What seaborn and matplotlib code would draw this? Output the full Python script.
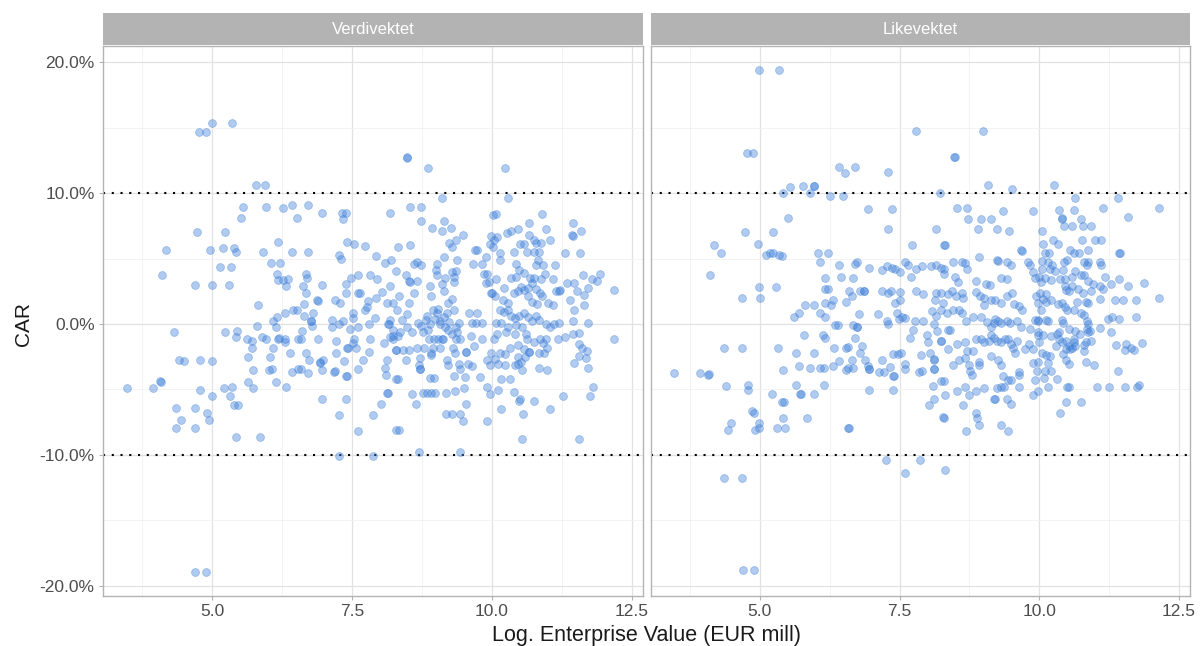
import numpy as np
import pandas as pd
import matplotlib
matplotlib.use("Agg")
import matplotlib.pyplot as plt
import seaborn as sns
from matplotlib.ticker import PercentFormatter, FixedLocator

sns.set_theme(style="white")
plt.rcParams["font.family"] = ["Liberation Sans", "DejaVu Sans"]
plt.rcParams["axes.unicode_minus"] = False

# Facet titles
panels = ["Verdivektet", "Likevektet"]

# (log enterprise value, CAR in %) per event, value-weighted
verdivektet = [
    (4.76, 14.66), (4.73, 7.03), (4.18, 5.68), (4.10, 3.74), (4.69, 3.0), (4.32, -0.58), (4.40, -2.73),
    (4.50, -2.84), (4.79, -2.73), (3.48, -4.89), (3.94, -4.89), (4.07, -4.35), (4.09, -4.40), (4.79, -5.05),
    (4.36, -6.46), (4.70, -6.46), (4.44, -7.32), (4.36, -7.97), (4.70, -7.97), (4.70, -18.97),
    (4.89, 14.66), (5.0, 15.39), (5.36, 15.39), (5.79, 10.64), (5.95, 10.64), (5.55, 8.97), (5.51, 8.11),
    (5.97, 8.97), (6.26, 8.86), (6.42, 9.13), (6.51, 8.11), (5.23, 7.03), (4.96, 5.68), (5.20, 5.79),
    (5.39, 5.84), (5.42, 5.52), (5.91, 5.52), (6.18, 6.27), (6.42, 5.52), (5.14, 4.39), (5.34, 4.39),
    (6.05, 4.65), (6.22, 4.65), (4.99, 3.0), (5.30, 3.0), (6.16, 3.85), (6.18, 3.36), (6.26, 3.36),
    (6.36, 3.47), (6.32, 2.88), (5.82, 1.47), (6.45, 1.04), (6.30, 0.82), (6.16, 0.55), (6.08, 0.23),
    (5.80, -0.15), (6.14, -0.20), (5.23, -0.58), (5.45, -0.53), (5.42, -1.01), (5.63, -1.12), (5.71, -1.33),
    (5.90, -0.96), (5.97, -1.12), (6.18, -1.12), (6.19, -1.10), (6.30, -1.17), (6.31, -1.39), (6.54, -1.17),
    (5.71, -1.82), (6.09, -1.82), (6.40, -2.25), (5.64, -2.52), (6.03, -2.52), (4.99, -2.84), (5.73, -3.49),
    (6.01, -3.49), (6.07, -3.44), (6.42, -3.65), (6.54, -3.44), (5.64, -4.46), (6.15, -4.46), (5.22, -4.89),
    (5.35, -4.84), (5.73, -4.89), (6.32, -4.84), (5.32, -5.54), (4.99, -5.54), (5.39, -6.19), (5.46, -6.19),
    (4.91, -6.78), (4.95, -7.32), (5.42, -8.67), (5.85, -8.67), (4.89, -18.97),
    (6.71, 9.13), (6.96, 8.48), (7.32, 8.48), (7.39, 8.51), (7.33, 8.03), (8.18, 8.51), (7.41, 6.27),
    (7.53, 6.11), (7.74, 5.95), (6.71, 5.52), (7.27, 5.25), (7.30, 4.98), (7.92, 5.19), (8.09, 4.65),
    (8.20, 4.92), (6.67, 3.85), (6.69, 3.53), (6.63, 2.88), (6.96, 3.0), (7.39, 3.04), (7.49, 3.53),
    (7.61, 3.74), (7.82, 3.74), (7.95, 3.47), (6.68, 2.39), (6.88, 1.80), (6.89, 1.78), (7.20, 1.80),
    (7.29, 1.64), (7.39, 2.39), (7.60, 2.34), (7.65, 2.34), (7.77, 1.31), (7.78, 1.74), (7.74, 1.04),
    (7.92, 1.96), (8.04, 2.44), (8.13, 1.58), (8.18, 2.88), (6.52, 1.04), (6.65, 1.53), (6.65, 0.61),
    (6.80, 0.82), (6.76, 0.23), (6.77, 0.25), (6.79, -0.15), (6.61, -0.53), (7.15, 0.34), (7.14, -0.20),
    (7.26, 0.0), (7.33, 0.20), (7.52, 0.82), (7.51, 0.44), (7.46, -0.37), (7.60, -0.20), (7.80, 0.0),
    (7.91, 0.44), (8.15, 0.0), (8.16, 0.02), (8.18, 0.34), (8.18, -0.96), (8.24, -1.12), (6.59, -1.17),
    (6.89, -1.17), (7.21, -1.28), (7.52, -1.44), (7.54, -1.12), (7.82, -1.17), (8.08, -1.44), (7.41, -1.87),
    (7.42, -1.85), (7.57, -1.87), (6.67, -2.20), (7.22, -2.20), (7.80, -2.14), (8.28, -1.98), (6.73, -2.79),
    (7.70, -2.73), (8.13, -2.79), (6.92, -2.95), (6.93, -2.93), (6.99, -2.79), (7.36, -2.84), (6.59, -3.44),
    (6.72, -3.71), (6.96, -3.49), (7.18, -3.65), (7.19, -3.63), (7.40, -3.98), (7.41, -3.96), (7.61, -3.44),
    (8.09, -3.38), (8.10, -3.92), (8.28, -4.24), (8.13, -5.27), (8.14, -5.25), (6.96, -5.75), (7.39, -5.75),
    (8.02, -6.08), (7.27, -6.94), (7.88, -6.94), (7.60, -8.18), (7.27, -10.12), (7.88, -10.12), (8.28, -8.13),
    (8.48, 12.75), (8.49, 12.73), (8.86, 11.94), (9.10, 9.62), (8.53, 8.97), (8.73, 8.97), (8.74, 7.89),
    (8.93, 7.35), (9.14, 7.89), (9.11, 7.08), (9.26, 7.35), (9.49, 6.81), (10.02, 8.32), (8.33, 5.90),
    (8.53, 6.06), (9.23, 6.22), (9.35, 6.43), (9.29, 5.90), (9.70, 5.68), (9.73, 5.68), (9.96, 6.11),
    (8.61, 4.60), (8.66, 4.71), (8.73, 4.55), (9.02, 4.60), (9.15, 5.09), (9.38, 4.87), (9.67, 4.60),
    (9.82, 4.60), (9.89, 5.09), (8.29, 4.06), (8.47, 3.74), (9.00, 4.12), (9.01, 3.77), (9.29, 3.95),
    (9.35, 4.06), (9.85, 3.85), (9.91, 3.85), (9.89, 3.15), (10.01, 2.39), (9.95, 3.20), (8.54, 3.20),
    (8.52, 3.31), (8.67, 3.31), (8.90, 2.88), (9.10, 3.04), (9.17, 3.53), (9.32, 3.20), (9.33, 3.58),
    (8.34, 2.17), (8.61, 2.39), (8.91, 2.12), (9.14, 2.50), (9.21, 1.58), (9.29, 1.90), (8.24, 1.58),
    (8.30, 1.04), (8.52, 1.58), (8.49, 0.77), (8.40, 0.34), (8.68, 0.07), (8.84, 0.61), (8.82, 0.34),
    (8.95, 1.04), (9.01, 0.82), (9.03, 1.15), (8.98, 0.39), (9.07, 0.23), (9.14, 0.50), (9.20, 0.88),
    (9.32, 1.04), (8.89, 0.02), (9.08, 0.0), (9.16, -0.20), (9.24, 0.12), (9.35, -0.20), (9.41, 0.07),
    (9.59, 0.82), (9.73, 0.88), (9.64, 0.05), (9.71, 0.05), (9.83, 0.05), (8.24, -0.47), (8.24, -0.90),
    (8.33, -0.90), (8.36, -0.58), (8.48, -0.20), (8.57, -0.58), (8.73, -0.15), (8.76, -0.58), (8.86, -0.47),
    (8.87, -1.17), (8.96, -1.15), (9.04, -1.15), (9.11, -1.15), (9.12, -1.13), (9.22, -0.47), (9.29, -0.80),
    (9.38, -0.58), (9.35, -1.17), (9.43, -1.17), (9.63, -0.90), (9.68, -1.66), (9.82, -1.17), (8.29, -1.95),
    (8.42, -1.95), (8.51, -1.95), (8.66, -1.82), (8.78, -1.82), (8.95, -1.87), (8.91, -2.20), (9.08, -1.82),
    (9.30, -1.82), (9.34, -2.20), (9.53, -2.14), (9.54, -2.12), (8.47, -2.79), (8.71, -2.57), (8.70, -3.17),
    (8.71, -3.44), (8.72, -3.42), (8.92, -2.36), (9.20, -2.73), (9.21, -3.10), (9.41, -3.06), (9.43, -3.44),
    (9.58, -3.06), (9.65, -3.22), (9.91, -2.73), (9.97, -3.17), (8.32, -4.24), (8.90, -4.10), (8.96, -4.10),
    (9.33, -3.98), (9.52, -4.08), (9.78, -4.08), (9.91, -4.84), (8.57, -5.32), (8.64, -6.13), (8.76, -5.24),
    (8.84, -5.24), (8.91, -5.24), (8.98, -5.24), (9.18, -5.27), (9.34, -5.11), (9.51, -4.89), (9.54, -6.08),
    (9.97, -5.32), (9.18, -6.86), (9.28, -6.86), (9.43, -6.86), (9.49, -7.43), (9.92, -7.43), (8.34, -8.13),
    (8.70, -9.75), (9.43, -9.75),
    (10.23, 11.94), (10.29, 9.67), (10.08, 8.38), (10.89, 8.38), (10.67, 7.73), (11.45, 7.73), (10.27, 6.97),
    (10.35, 7.14), (10.47, 7.24), (9.98, 6.76), (10.04, 6.43), (10.09, 6.65), (10.67, 6.81), (10.75, 6.43),
    (10.79, 6.22), (10.88, 6.22), (10.96, 7.24), (11.04, 6.43), (11.43, 6.81), (11.60, 7.14), (10.51, 6.11),
    (10.58, 6.11), (10.02, 5.90), (10.15, 5.41), (10.40, 5.52), (10.63, 5.52), (10.76, 5.47), (10.84, 5.47),
    (10.82, 4.87), (11.30, 5.41), (11.58, 5.41), (10.14, 4.87), (10.43, 4.60), (10.48, 4.12), (10.78, 4.50),
    (10.92, 4.50), (11.13, 4.49), (11.62, 3.74), (10.08, 3.47), (10.22, 2.77), (10.35, 3.53), (10.43, 3.63),
    (10.57, 3.90), (10.68, 3.50), (10.76, 3.50), (10.88, 3.47), (10.95, 3.85), (11.09, 3.42), (11.15, 2.55),
    (11.20, 2.55), (11.21, 2.57), (11.34, 3.15), (11.46, 3.15), (11.52, 2.55), (11.72, 2.77), (9.98, 2.39),
    (10.05, 2.12), (10.20, 1.85), (10.28, 1.64), (10.39, 2.39), (10.46, 2.55), (10.52, 2.83), (10.58, 2.61),
    (10.65, 2.77), (10.72, 3.10), (10.79, 2.66), (10.86, 2.39), (10.90, 2.12), (10.64, 2.12), (10.72, 1.69),
    (10.80, 1.53), (11.00, 1.58), (11.10, 1.42), (11.39, 1.80), (11.46, 1.04), (11.65, 1.47), (10.15, 1.09),
    (10.22, 0.93), (10.29, 1.04), (10.35, 0.61), (10.42, 0.44), (10.48, 0.61), (10.57, 0.82), (10.65, 0.50),
    (10.72, 0.23), (10.79, 0.61), (10.84, 0.28), (10.07, 0.07), (10.16, 0.07), (10.29, -0.25), (10.43, -0.09),
    (10.53, -0.25), (10.96, 0.0), (11.04, -0.20), (11.11, 0.0), (11.20, 0.07), (11.45, 0.23), (11.72, 0.07),
    (10.09, -0.80), (10.03, -1.17), (10.26, -0.64), (10.42, -0.74), (10.61, -0.74), (10.63, -1.17),
    (10.76, -1.39), (10.86, -1.17), (10.97, -1.17), (10.91, -1.44), (11.18, -1.12), (11.30, -0.96),
    (11.45, -0.74), (11.55, -0.69), (10.32, -1.82), (10.47, -1.60), (10.58, -1.93), (10.66, -2.14),
    (10.67, -2.12), (10.93, -2.20), (10.98, -1.87), (11.61, -1.87), (11.70, -2.09), (9.98, -2.25),
    (10.14, -2.20), (10.24, -2.31), (10.05, -2.68), (10.47, -2.52), (10.60, -2.52), (10.52, -2.90),
    (10.85, -2.20), (11.56, -2.47), (10.11, -3.06), (10.24, -3.17), (10.42, -3.17), (10.47, -3.06),
    (10.53, -3.49), (10.84, -3.38), (10.98, -3.49), (11.47, -3.00), (11.71, -3.33), (10.17, -4.19),
    (10.33, -4.19), (10.10, -5.05), (10.40, -5.21), (10.49, -5.86), (10.50, -5.70), (10.76, -5.92),
    (11.27, -5.48), (11.76, -5.48), (10.17, -6.51), (10.55, -6.89), (11.04, -6.51), (10.54, -8.78),
    (11.55, -8.78),
    (11.79, 3.47), (11.87, 3.26), (11.94, 3.85), (12.19, 2.61), (11.65, 2.23), (12.19, -1.14),
    (11.56, -1.55), (11.69, -2.60), (11.80, -4.84), (11.45, 6.76),
]

# (log enterprise value, CAR in %) per event, equal-weighted
likevektet = [
    (4.76, 13.05), (4.88, 13.05), (4.73, 7.03), (4.17, 6.08), (4.31, 5.46), (4.10, 3.74), (4.68, 1.96),
    (4.36, -1.87), (4.68, -1.87), (3.46, -3.76), (3.92, -3.76), (4.07, -3.87), (4.08, -3.85), (4.40, -4.73),
    (4.79, -4.68), (4.79, -5.05), (4.49, -7.54), (4.43, -8.13), (4.36, -11.80), (4.68, -11.80),
    (4.70, -18.81), (4.86, -6.67),
    (4.99, 19.43), (5.35, 19.43), (6.41, 12.03), (6.52, 11.54), (5.41, 10.0), (5.54, 10.46), (5.78, 10.56),
    (5.96, 10.56), (5.97, 10.54), (5.90, 10.0), (6.26, 9.78), (6.49, 9.78), (5.51, 8.11), (5.23, 7.03),
    (4.96, 6.11), (5.11, 5.30), (5.18, 5.46), (5.24, 5.41), (5.35, 5.25), (5.40, 5.19), (6.04, 5.41),
    (6.21, 5.41), (6.08, 4.76), (6.41, 4.55), (6.16, 3.53), (6.45, 3.58), (4.98, 2.83), (5.29, 2.83),
    (5.01, 1.96), (6.17, 2.66), (6.22, 2.66), (6.30, 1.85), (6.28, 1.42), (6.17, 1.58), (5.80, 1.42),
    (5.96, 1.42), (5.70, 0.88), (5.61, 0.50), (6.08, 0.88), (6.17, 0.50), (6.35, -0.10), (6.40, -0.10),
    (6.55, 1.70), (5.79, -0.85), (6.13, -0.85), (6.17, -1.06), (5.33, -1.82), (6.32, -1.82), (5.64, -2.25),
    (5.96, -2.25), (6.54, -1.82), (5.41, -3.49), (5.70, -3.22), (5.90, -3.40), (6.07, -3.40), (6.15, -3.40),
    (6.30, -3.22), (6.41, -2.84), (6.54, -3.49), (5.64, -4.68), (5.72, -5.38), (5.73, -5.36), (5.22, -5.38),
    (5.96, -5.38), (6.14, -4.68), (5.39, -5.97), (5.43, -5.97), (4.90, -6.78), (5.41, -7.16), (5.85, -7.16),
    (4.98, -7.54), (4.92, -8.13), (4.99, -7.97), (5.30, -7.97), (5.45, -7.97), (6.58, -7.97), (4.89, -18.81),
    (7.80, 14.79), (6.70, 12.03), (7.30, 11.59), (8.22, 10.05), (6.93, 8.81), (7.37, 8.81), (7.30, 7.24),
    (8.16, 7.24), (7.73, 6.05), (8.29, 6.05), (6.70, 4.60), (6.74, 4.71), (6.95, 4.28), (7.18, 4.12),
    (7.27, 4.44), (7.36, 4.28), (7.41, 4.17), (7.51, 4.01), (7.59, 4.71), (7.66, 4.55), (7.79, 4.17),
    (7.90, 4.44), (8.07, 4.44), (8.15, 4.55), (7.71, 3.58), (6.67, 3.53), (8.24, 4.28), (8.29, 3.85),
    (6.60, 2.50), (6.64, 2.17), (6.79, 2.55), (6.86, 2.50), (6.87, 2.52), (7.18, 2.50), (7.29, 2.39),
    (7.35, 2.50), (7.51, 2.44), (7.79, 2.50), (7.92, 2.28), (8.15, 2.39), (8.13, 1.80), (7.41, 1.58),
    (7.51, 1.80), (8.27, 1.58), (6.78, 0.77), (7.11, 0.77), (7.27, 0.23), (7.45, 0.82), (7.49, 0.39),
    (7.54, 0.50), (7.60, 0.44), (7.78, 0.23), (7.92, 0.23), (8.08, 0.99), (8.16, 0.61), (8.11, 0.0),
    (8.17, -0.53), (6.67, -0.10), (6.73, -0.25), (6.74, -0.23), (7.29, 0.0), (7.68, -1.06), (7.74, -0.47),
    (7.99, -0.85), (8.01, -1.39), (8.24, -1.28), (6.58, -1.76), (6.71, -1.06), (6.83, -1.66), (6.80, -2.20),
    (6.65, -2.73), (6.89, -2.79), (6.93, -3.22), (6.95, -3.44), (6.96, -3.42), (6.57, -3.40), (6.67, -3.40),
    (7.18, -2.73), (7.14, -3.65), (7.22, -3.65), (7.33, -3.27), (7.39, -3.98), (7.40, -3.96), (7.39, -2.30),
    (7.48, -2.30), (7.53, -2.20), (7.59, -3.06), (7.59, -3.44), (7.88, -2.36), (8.05, -2.20), (8.11, -2.73),
    (8.12, -2.71), (8.11, -3.44), (8.12, -3.42), (7.85, -3.70), (7.90, -3.60), (8.24, -4.35), (8.09, -4.73),
    (6.95, -5.05), (7.38, -5.05), (8.11, -5.75), (8.02, -6.19), (8.27, -7.11), (6.60, -7.97), (7.26, -10.39),
    (7.86, -10.39), (7.59, -11.42), (8.31, -11.2),
    (8.99, 14.79), (8.48, 12.75), (8.49, 12.77), (9.08, 10.64), (9.52, 10.32), (8.52, 8.86), (8.71, 8.86),
    (8.73, 8.05), (8.96, 8.05), (9.13, 8.05), (8.90, 7.30), (9.24, 7.30), (9.36, 8.65), (9.46, 7.08),
    (9.89, 8.65), (8.32, 6.05), (8.93, 5.14), (9.68, 5.63), (9.69, 5.61), (9.24, 4.87),
    (8.46, 4.71), (8.61, 4.71), (8.68, 4.66), (8.70, 4.17), (8.29, 4.17), (8.50, 3.58), (8.54, 3.20),
    (8.87, 3.31), (9.05, 3.09), (9.12, 2.98), (9.26, 4.82), (9.42, 4.71), (9.50, 4.55), (9.32, 3.52),
    (9.42, 3.47), (9.80, 4.71), (9.83, 4.49), (9.89, 3.95), (9.93, 3.52), (10.0, 3.58),
    (8.25, 2.39), (8.37, 2.28), (8.44, 2.50), (8.62, 2.39), (8.51, 2.12), (8.64, 1.96), (8.87, 2.44),
    (8.94, 2.12), (9.01, 2.01), (9.02, 1.42), (9.14, 1.80), (9.21, 1.80), (9.31, 1.64), (9.42, 2.12),
    (9.51, 2.39), (9.55, 1.53), (9.64, 1.37), (9.70, 1.10), (9.95, 2.12), (10.01, 2.39),
    (8.25, 1.04), (8.35, 0.83), (8.46, 1.04), (8.56, 1.04), (8.61, 0.88), (8.69, 0.23), (8.82, 0.56),
    (8.95, 0.50), (9.07, 0.18), (9.14, -0.20), (9.19, 0.07), (9.21, 0.39), (9.26, 0.23), (9.31, 0.07),
    (9.42, 0.23), (9.48, 0.07), (9.60, 0.23), (9.68, -0.20), (9.83, -0.41), (9.92, 0.34), (9.98, 0.23),
    (8.36, -0.47), (8.40, -0.47),
    (8.25, -1.28), (8.36, -1.93), (8.52, -1.55), (8.67, -1.39), (8.70, -2.09), (8.82, -2.09), (8.87, -1.17),
    (8.96, -1.17), (9.02, -1.39), (9.11, -1.28), (9.14, -0.85), (9.19, -1.06), (9.24, -1.28), (9.31, -1.39),
    (9.38, -1.17), (9.44, -1.17), (9.50, -1.55), (9.54, -1.82), (9.57, -2.20), (9.61, -1.28), (9.74, -1.93),
    (9.82, -1.55), (9.89, -1.93), (9.98, -0.85),
    (8.45, -3.11), (8.57, -2.79), (8.68, -2.63), (8.74, -3.17), (8.76, -3.60), (8.79, -3.87), (8.92, -2.90),
    (8.93, -3.17), (9.13, -2.47), (9.26, -2.79), (9.32, -3.17), (9.35, -3.98), (9.44, -4.25), (9.50, -4.25),
    (9.63, -3.65), (9.64, -3.92), (9.89, -3.00), (9.93, -4.25), (9.96, -3.60),
    (8.29, -4.35), (8.31, -5.43), (8.29, -7.16), (8.52, -5.10), (8.63, -6.18), (8.67, -4.78), (8.74, -5.43),
    (8.87, -5.10), (9.02, -4.89), (9.19, -5.75), (9.20, -5.73), (9.24, -4.89), (9.32, -4.78), (9.37, -4.83),
    (9.43, -5.70), (9.50, -6.13), (9.64, -4.83), (9.89, -5.43), (8.87, -6.78), (8.89, -7.16), (8.93, -7.75),
    (9.31, -7.75), (9.44, -8.18), (8.69, -8.18),
    (10.27, 10.64), (10.65, 9.62), (11.41, 9.67), (11.15, 8.86), (10.62, 8.70), (10.35, 8.70), (10.40, 8.05),
    (10.41, 8.07), (11.59, 8.16), (10.44, 7.51), (10.59, 7.51), (10.75, 8.05), (10.79, 7.51), (10.93, 7.51),
    (10.05, 7.08), (10.24, 6.43), (10.34, 6.11), (10.77, 6.43), (11.00, 6.43), (11.11, 6.43), (10.06, 6.11),
    (10.55, 5.63), (10.63, 5.41), (10.72, 5.41), (10.87, 5.63), (11.43, 5.41), (11.44, 5.43), (10.11, 5.46),
    (10.17, 5.41), (10.05, 4.82), (10.16, 4.76), (10.23, 4.55), (10.28, 4.06), (10.44, 4.71), (10.42, 4.12),
    (10.50, 4.87), (10.81, 4.71), (10.87, 4.77), (10.86, 4.55), (11.09, 4.71), (11.10, 4.55), (10.05, 4.22),
    (10.19, 4.17), (10.10, 3.52), (10.22, 3.36), (10.04, 3.20), (10.38, 3.47), (10.46, 3.42), (10.58, 3.58),
    (10.65, 4.06), (10.75, 3.74), (10.81, 3.74), (10.46, 2.93), (10.48, 2.61), (10.54, 2.50), (10.58, 2.93),
    (10.87, 3.31), (10.97, 3.04), (11.09, 2.88), (11.17, 3.58), (11.28, 3.09), (11.43, 3.47), (11.59, 2.88),
    (11.15, 2.66), (11.08, 1.90), (10.93, 2.55), (10.78, 2.39), (10.69, 2.66), (11.36, 1.80), (11.50, 1.80),
    (11.73, 1.85), (10.12, 2.28), (10.06, 1.90), (10.21, 1.80), (9.98, 1.58), (10.12, 1.69), (10.04, 1.04),
    (10.34, 1.53), (10.41, 1.58), (10.49, 1.04), (10.46, 1.31), (10.63, 1.04), (10.67, 1.69), (10.83, 1.69),
    (10.87, 1.58), (10.74, 0.83), (10.80, 0.72), (9.98, 0.34), (10.13, 0.34), (10.16, 0.23), (10.40, 0.34),
    (10.42, 0.07), (10.86, 0.23), (10.88, 0.0), (10.86, -0.36), (11.23, 0.39), (11.31, 0.56), (11.43, 0.39),
    (11.28, -0.58), (11.74, 0.50), (9.98, -0.58), (10.06, -0.85), (10.22, -0.90), (10.31, -0.74),
    (10.35, -0.58), (10.36, -1.12), (10.41, -1.39), (10.30, -1.66), (10.54, -0.36), (10.65, -0.53),
    (10.63, -1.17), (10.73, -0.74), (10.87, -0.58), (10.91, -0.53), (11.09, -0.31), (10.48, -1.28),
    (10.53, -1.66), (10.59, -1.82), (10.62, -1.39), (10.55, -1.93), (10.48, -1.93), (10.65, -1.66),
    (10.80, -1.60), (10.84, -1.39), (10.93, -1.28), (10.81, -2.09), (11.38, -1.60), (11.56, -1.50),
    (11.65, -1.82), (11.69, -1.98), (11.54, -1.98), (9.99, -1.39), (10.05, -2.20), (9.98, -2.90),
    (10.12, -2.36), (10.19, -2.41), (10.16, -3.00), (10.42, -2.31), (10.48, -2.73), (10.54, -3.06),
    (10.84, -2.90), (10.98, -3.17), (11.41, -3.60), (10.10, -3.60), (10.22, -3.60), (10.31, -4.19),
    (10.08, -4.14), (10.15, -4.83), (10.49, -4.83), (10.54, -4.83), (11.03, -4.85), (11.25, -4.85),
    (11.54, -4.85), (11.75, -4.85), (10.48, -5.97), (10.75, -5.97), (10.38, -6.83), (9.98, -5.10),
    (12.14, 8.87), (11.88, 3.14), (12.14, 1.99), (11.84, -1.45), (11.79, -4.67),
]

x_ticks = [5.0, 7.5, 10.0, 12.5]
x_minor = [3.75, 6.25, 8.75, 11.25]
y_ticks = [-20, -10, 0, 10, 20]
y_minor = [-15, -5, 5, 15]
thresholds = [-10, 10]

frames = []
for name, pts in zip(panels, [verdivektet, likevektet]):
    arr = np.array(pts)
    frames.append(pd.DataFrame({"panel": name, "ev": arr[:, 0], "car": arr[:, 1]}))
df = pd.concat(frames, ignore_index=True)

W, H = 1204, 646
fig = plt.figure(figsize=(W / 100, H / 100), dpi=100)

point_color = "#3B7DD8"
border = "#B3B3B3"
panel_bounds = [(103, 643), (651, 1190)]
plot_top, plot_bottom = 46, 596
strip_top, strip_bottom = 13, 45

for i, (name, (l, r)) in enumerate(zip(panels, panel_bounds)):
    ax = fig.add_axes([l / W, 1 - plot_bottom / H, (r - l) / W, (plot_bottom - plot_top) / H])
    ax.set_facecolor("white")
    sub = df[df["panel"] == name]

    ax.set_xlim(3.05, 12.7)
    ax.set_ylim(-20.8, 21.26)
    ax.xaxis.set_major_locator(FixedLocator(x_ticks))
    ax.xaxis.set_minor_locator(FixedLocator(x_minor))
    ax.yaxis.set_major_locator(FixedLocator(y_ticks))
    ax.yaxis.set_minor_locator(FixedLocator(y_minor))
    ax.grid(which="major", color="#E2E2E2", linewidth=0.9)
    ax.grid(which="minor", color="#F1F1F1", linewidth=0.6)
    ax.set_axisbelow(True)

    for t in thresholds:
        ax.axhline(t, color="black", linestyle=(0, (1, 3.2)), linewidth=1.5, zorder=1)

    sns.scatterplot(data=sub, x="ev", y="car", ax=ax, color=point_color, alpha=0.4,
                    s=32, edgecolor=point_color, linewidth=0.6, zorder=3, legend=False)

    ax.set_xlabel("")
    ax.set_ylabel("")
    ax.xaxis.set_major_formatter(matplotlib.ticker.FormatStrFormatter("%.1f"))
    ax.yaxis.set_major_formatter(PercentFormatter(xmax=100, decimals=1))
    for sp in ax.spines.values():
        sp.set_color(border)
        sp.set_linewidth(1.0)
    ax.tick_params(axis="both", which="major", length=3, width=0.8, color=border,
                   labelcolor="#4D4D4D", labelsize=12.5, pad=3)
    ax.tick_params(axis="both", which="minor", length=0)
    ax.tick_params(axis="x", bottom=True)
    if i == 0:
        ax.tick_params(axis="y", left=True)
    else:
        ax.tick_params(axis="y", left=False, labelleft=False)

    # facet strip
    sax = fig.add_axes([l / W, 1 - strip_bottom / H, (r - l) / W, (strip_bottom - strip_top) / H])
    sax.set_facecolor(border)
    sax.set_xticks([])
    sax.set_yticks([])
    for sp in sax.spines.values():
        sp.set_visible(False)
    sax.text(0.5, 0.5, name, transform=sax.transAxes, ha="center", va="center",
             color="white", fontsize=12)

fig.text((103 + 1190) / 2 / W, 1 - 635 / H, "Log. Enterprise Value (EUR mill)",
         ha="center", va="center", fontsize=15.5, color="#1A1A1A")
fig.text(24 / W, 1 - 324 / H, "CAR", ha="center", va="center", rotation=90,
         fontsize=15, color="#1A1A1A")

fig.savefig("out.png", dpi=100, facecolor="white")
